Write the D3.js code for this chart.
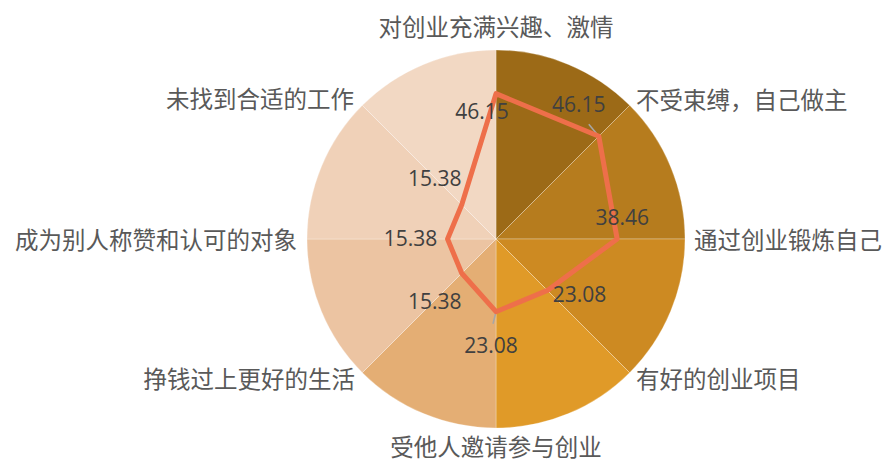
<!DOCTYPE html>
<html><head><meta charset="utf-8">
<script src="https://cdn.jsdelivr.net/npm/d3@7/dist/d3.min.js"></script>
<style>html,body{margin:0;padding:0;background:#fff;}svg{display:block;}</style>
</head><body>
<svg id="chart" width="885" height="463"></svg>
<script>
const categories = ["对创业充满兴趣、激情","不受束缚，自己做主","通过创业锻炼自己","有好的创业项目","受他人邀请参与创业","挣钱过上更好的生活","成为别人称赞和认可的对象","未找到合适的工作"];
const values = [46.15, 46.15, 38.46, 23.08, 23.08, 15.38, 15.38, 15.38];
const sectorColors = ["#9C6A17","#B67C1E","#CD8A22","#E09A28","#E4AE74","#ECC4A2","#F0D1B8","#F2D8C3"];
const radialMax = 60;

// layout (not data)
const cx = 496, cy = 239, R = 189;
const labelOffsets = [[-14,17],[-20,-32],[5,-22],[32,4],[-5,33],[-27,28],[-37,-1],[-27,-27]];
const catLabelPos = [
  {dx:0, dy:-213, anchor:"middle"},
  {dx:140, dy:-140, anchor:"start"},
  {dx:198, dy:0, anchor:"start"},
  {dx:140, dy:139, anchor:"start"},
  {dx:0, dy:207, anchor:"middle"},
  {dx:-141, dy:139, anchor:"end"},
  {dx:-199, dy:0, anchor:"end"},
  {dx:-142, dy:-141, anchor:"end"}
];

const svg = d3.select("#chart");
const g = svg.append("g").attr("transform", `translate(${cx},${cy})`);

const pie = d3.pie().sort(null).value(() => 1);
const arc = d3.arc().innerRadius(0).outerRadius(R);
g.selectAll("path.sector").data(pie(categories)).join("path")
  .attr("class","sector")
  .attr("d", arc)
  .attr("fill", (d,i) => sectorColors[i])
  .attr("stroke", "#fff").attr("stroke-opacity", 0.35).attr("stroke-width", 0.8);

const r = d3.scaleLinear().domain([0, radialMax]).range([0, R]);
const angle = d3.scalePoint().domain(d3.range(categories.length)).range([0, 2*Math.PI*(categories.length-1)/categories.length]);

function pt(i, v){ const a = angle(i); return [Math.sin(a)*r(v), -Math.cos(a)*r(v)]; }
const leaders = [[1,[-10,-12]],[4,[-3,12]]];
leaders.forEach(([i,off]) => {
  const p = pt(i, values[i]);
  g.append("line").attr("x1",p[0]).attr("y1",p[1]).attr("x2",p[0]+off[0]).attr("y2",p[1]+off[1])
    .attr("stroke","#A6A6A6").attr("stroke-width",1.5);
});

const line = d3.lineRadial().angle((d,i) => angle(i)).radius(d => r(d)).curve(d3.curveLinearClosed);
g.append("path").datum(values).attr("d", line)
  .attr("fill","none").attr("stroke","#EE6F4A").attr("stroke-width",5).attr("stroke-linejoin","round");

g.selectAll("text.val").data(values).join("text")
  .attr("class","val")
  .attr("x",(d,i) => pt(i,d)[0] + labelOffsets[i][0])
  .attr("y",(d,i) => pt(i,d)[1] + labelOffsets[i][1])
  .attr("text-anchor","middle").attr("dominant-baseline","central")
  .attr("font-family","'Open Sans', sans-serif").attr("font-size",21)
  .attr("fill","#404040")
  .text(d => d.toFixed(2));

g.selectAll("text.cat").data(categories).join("text")
  .attr("class","cat")
  .attr("x",(d,i) => catLabelPos[i].dx)
  .attr("y",(d,i) => catLabelPos[i].dy)
  .attr("text-anchor",(d,i) => catLabelPos[i].anchor)
  .attr("dominant-baseline","central")
  .attr("font-family","'Noto Sans CJK SC', sans-serif").attr("font-size",23.5)
  .attr("fill","#595959")
  .text(d => d);
</script>
</body></html>
